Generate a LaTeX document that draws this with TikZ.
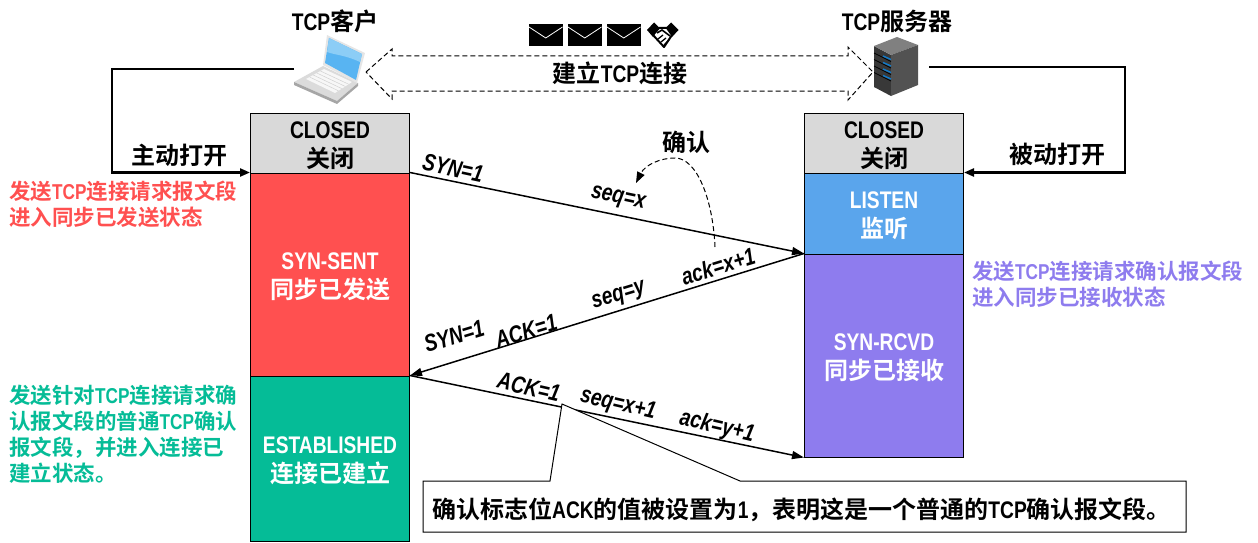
\documentclass[tikz,border=0pt]{standalone}
\usepackage{fontspec}
\setmainfont{Liberation Sans}[FakeStretch=0.8]
\newfontfamily\cjkfont{Noto Sans CJK SC}[BoldFont=* Bold]
\newcommand{\zh}[1]{{\cjkfont #1}}
\newcommand{\firstline}{\rule{0pt}{22pt}}
\usetikzlibrary{arrows.meta,calc}
\definecolor{stGrey}{HTML}{D9D9D9}
\definecolor{stRed}{HTML}{FF5050}
\definecolor{stBlue}{HTML}{5AA5EC}
\definecolor{stPurple}{HTML}{8E7CEE}
\definecolor{stGreen}{HTML}{05BC97}
\definecolor{screenBlue}{HTML}{58B4F2}
\definecolor{screenPale}{HTML}{8CCDF6}
\tikzset{
  statebox/.style={draw=black,line width=1pt,minimum width=159pt,inner sep=0pt,align=center,
    font=\bfseries\fontsize{24}{29}\selectfont},
  flow/.style={draw=black,line width=1.5pt,-{Triangle[length=12pt,width=8pt]}},
  openflow/.style={draw=black,line width=2.2pt,-{Triangle[length=10pt,width=8pt]}},
  msglabel/.style={inner sep=0pt,font=\bfseries\itshape\fontsize{24}{26}\selectfont},
  titlelabel/.style={inner sep=0pt,font=\bfseries\fontsize{24}{28}\selectfont},
  sidenote/.style={inner sep=0pt,anchor=north west,align=left,font=\bfseries\fontsize{21.5}{26}\selectfont},
  envelope/.style={fill=black,draw=none},
}
\begin{document}
\begin{tikzpicture}[x=1pt,y=-1pt]
\useasboundingbox (0,0) rectangle (1258,543);

% client state column
\node[statebox,fill=stGrey,minimum height=60pt,text=black] (closedL) at (330,143) {\firstline CLOSED\\\zh{关闭}};
\node[statebox,fill=stRed,minimum height=203pt,text=white] (sent) at (330,274.5) {\firstline SYN-SENT\\\zh{同步已发送}};
\node[statebox,fill=stGreen,minimum height=165pt,text=white] (estab) at (330,458.5) {\firstline ESTABLISHED\\\zh{连接已建立}};

% server state column
\node[statebox,fill=stGrey,minimum height=60pt,text=black] (closedR) at (884,143) {\firstline CLOSED\\\zh{关闭}};
\node[statebox,fill=stBlue,minimum height=81pt,text=white] (listen) at (884,213.5) {\firstline LISTEN\\\zh{监听}};
\node[statebox,fill=stPurple,minimum height=203pt,text=white] (rcvd) at (884,355.5) {\firstline SYN-RCVD\\\zh{同步已接收}};

% laptop
\coordinate (laptopPort) at (294,69);
\fill[black!14] (294,82) -- (323,66) -- (358,83) -- (337,101) -- cycle;
\fill[black!35] (294,82) -- (337,101) -- (358,83) -- (358,86) -- (337,104) -- (294,85) -- cycle;
\fill[black!3] (306,79) -- (324,69) -- (352,82) -- (335,93) -- cycle;
\foreach \t in {0.2,.4,.6,.8}{
  \draw[black!18,line width=.5pt] ($(306,79)!\t!(324,69)$) -- ($(335,93)!\t!(352,82)$);
}
\fill[black!10] (327,35) -- (365,53) -- (357,83) -- (323,65) -- cycle;
\fill[screenBlue] (329,38) -- (362,54) -- (356,80) -- (325,63) -- cycle;
\fill[screenPale] (329,38) -- (362,54) -- (360,62) .. controls (345,55) and (335,55) .. (327,52) -- cycle;

% server tower
\coordinate (serverPort) at (929,67);
\fill[black!78] (874,46) -- (891,55) -- (891,96) -- (874,87) -- cycle;
\fill[black!50] (874,46) -- (897,37) -- (918,45) -- (891,55) -- cycle;
\fill[black!68] (891,55) -- (918,45) -- (918,85) -- (891,96) -- cycle;
\foreach \dy in {0,6.5,13,19.5}{
  \draw[black,line width=.7pt] (874,{53+\dy}) -- (891,{61.5+\dy});
  \draw[cyan!60!blue,line width=1.4pt] (883,{56+\dy}) -- (891,{59.5+\dy});
}

% hollow dashed double arrow between the hosts
\node[titlelabel] (link) at (620,73) {\zh{建立}TCP\zh{连接}};
\coordinate (lt) at (366,72);
\coordinate (rt) at (873,72);
\draw[line width=1pt,dash pattern=on 5pt off 3pt]
  (lt) -- (392,49) -- (392,56) -- (848,56) -- (848,47) -- (rt)
  -- (848,100) -- (848,91) -- (392,91) -- (392,99) -- cycle;

% message icons
\foreach \xx in {529,568,607}{
  \fill[envelope] (\xx,24) rectangle ++(33.5,22);
  \draw[white,line width=.8pt] (\xx,27) -- ++(16.75,11) -- ++(16.75,-11);
}
% handshake icon
\fill[black] (647,30) -- (654,22.5) -- (660.5,29) -- (653,37) -- cycle;
\fill[black] (678.5,30) -- (671,22.5) -- (664.5,29) -- (672,37) -- cycle;
\draw[black,line width=2pt,fill=white,line join=round] (653,35) -- (664,47) -- (672,35) -- (667,28) -- (659,28) -- cycle;
\draw[black,line width=1.6pt] (657,33) -- (662,30) -- (670,36);
\draw[black,line width=1.3pt] (658,39) -- (663,35) (661,42) -- (666,38) (664,45) -- (669,40);

% host titles
\node[titlelabel] (client) at (335,21) {TCP\zh{客户}};
\node[titlelabel] (server) at (897,21) {TCP\zh{服务器}};

% open actions
\coordinate (openL) at (112,69);
\coordinate (openR) at (1125,67);
\draw[openflow] (laptopPort) -- (openL) |- (sent.north west);
\draw[openflow] (serverPort) -- (openR) |- (listen.north east);
\node[titlelabel] (active) at (179,155) {\zh{主动打开}};
\node[titlelabel] (passive) at (1057,154) {\zh{被动打开}};

% handshake segments
\draw[flow] (sent.north east) -- (rcvd.north west);
\draw[flow] (rcvd.north west) -- (estab.north east);
\draw[flow] (estab.north east) -- (rcvd.south west);

\node[msglabel,rotate=-12] (m1) at (453,168) {SYN=1};
\node[msglabel,rotate=-12] (m2) at (618,199) {seq=x};
\node[msglabel,rotate=17] (m3) at (718,266) {ack=x+1};
\node[msglabel,rotate=17] (m4) at (619,297) {seq=y};
\node[msglabel,rotate=17] (m5) at (454,336) {SYN=1};
\node[msglabel,rotate=17] (m6) at (526,331) {ACK=1};
\node[msglabel,rotate=-13] (m7) at (529,387) {ACK=1};
\node[msglabel,rotate=-13] (m8) at (618,405) {seq=x+1};
\node[msglabel,rotate=-13] (m9) at (717,427) {ack=y+1};

% acknowledgement hint
\node[titlelabel] (ackhint) at (686,142) {\zh{确认}};
\coordinate (hintA) at (715,247);
\coordinate (hintB) at (675,158);
\coordinate (hintC) at (636,183);
\draw[line width=1pt,dash pattern=on 5pt off 3pt,-{Triangle[length=11pt,width=8pt]}]
  (hintA) .. controls (713,200) and (697,158) .. (hintB) .. controls (660,158) and (645,165) .. (hintC);

% side notes
\node[sidenote,text=stRed] (noteA) at (9,180.5) {\zh{发送}TCP\zh{连接请求报文段}\\\zh{进入同步已发送状态}};
\node[sidenote,text=stPurple] (noteB) at (972,261) {\zh{发送}TCP\zh{连接请求确认报文段}\\\zh{进入同步已接收状态}};
\node[sidenote,text=stGreen] (noteC) at (9,385) {\zh{发送针对}TCP\zh{连接请求确}\\\zh{认报文段的普通}TCP\zh{确认}\\\zh{报文段，并进入连接已}\\\zh{建立状态。}};

% callout on the ACK flag
\coordinate (calloutTip) at (562,404);
\draw[fill=white,line width=1pt] (423,481) -- (550,481) -- (calloutTip) -- (740,481) -- (1186,481) -- (1186,532) -- (423,532) -- cycle;
\node[inner sep=0pt,anchor=west,font=\bfseries\fontsize{24}{26}\selectfont] (calloutText) at (432,510)
  {\zh{确认标志位}ACK\zh{的值被设置为}1\zh{，表明这是一个普通的}TCP\zh{确认报文段。}};
\end{tikzpicture}
\end{document}
